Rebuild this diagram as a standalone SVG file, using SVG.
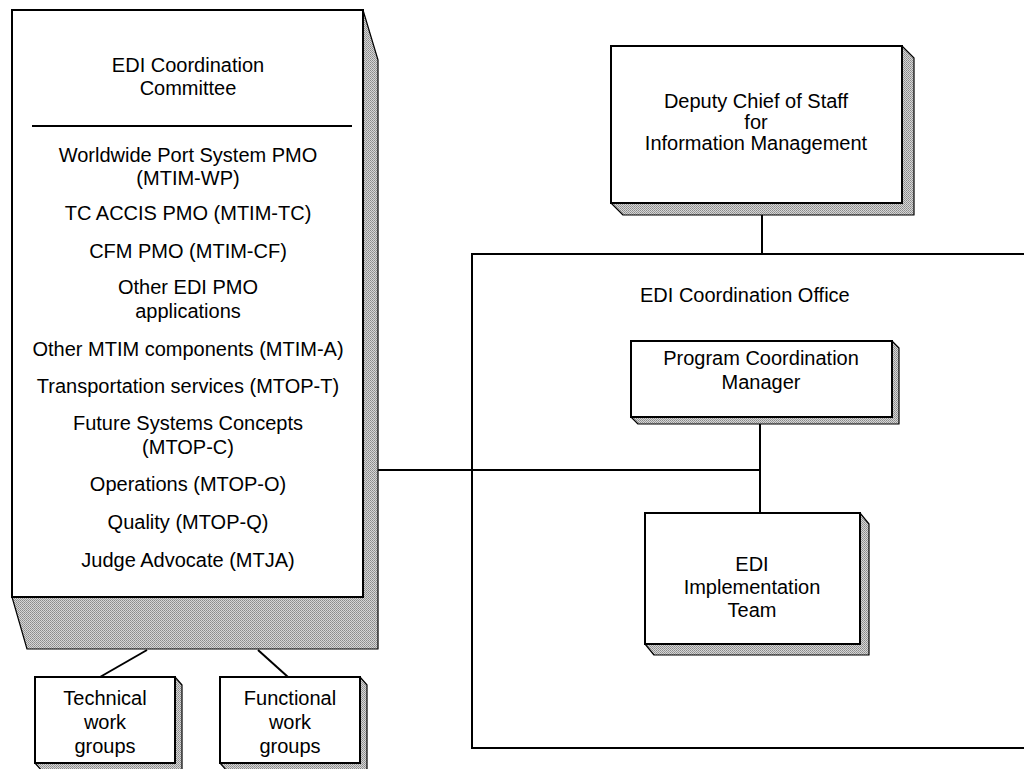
<svg xmlns="http://www.w3.org/2000/svg" width="1024" height="769" viewBox="0 0 1024 769">
<defs>
<pattern id="dots" width="2" height="2" patternUnits="userSpaceOnUse">
<rect width="2" height="2" fill="#d6d6d6"/>
<rect width="1" height="1" fill="#8a8a8a"/>
<rect x="1" y="1" width="1" height="1" fill="#9a9a9a"/>
</pattern>
</defs>
<style>
.face{fill:#fff;stroke:#000;stroke-width:2}
.shade{fill:url(#dots);stroke:#000;stroke-width:1.2;stroke-linejoin:round}
.t{font-family:"Liberation Sans",Arial,Helvetica,sans-serif;font-size:20px;fill:#000;text-anchor:middle}
.ts{font-family:"Liberation Sans",Arial,Helvetica,sans-serif;font-size:20px;fill:#000}
.c{stroke:#000;stroke-width:2;fill:none}
</style>
<rect width="1024" height="769" fill="#fff"/>

<g id="edi-coordination-office">
<path class="c" d="M1024,254 H472 V748 H1024"/>
<text class="ts" x="640" y="302">EDI Coordination Office</text>
</g>

<g id="connectors">
<line class="c" x1="762" y1="215" x2="762" y2="254"/>
<line class="c" x1="760" y1="423" x2="760" y2="513"/>
<line class="c" x1="371" y1="470" x2="760" y2="470"/>
<line class="c" x1="147" y1="650" x2="100" y2="677"/>
<line class="c" x1="258" y1="650" x2="288" y2="677"/>
</g>

<g id="edi-coordination-committee">
<polygon class="shade" points="363,10 378,60 378,649 27,649 12,597 363,597"/>
<rect class="face" x="12" y="10" width="351" height="587"/>
<line x1="32" y1="126" x2="352" y2="126" stroke="#000" stroke-width="2"/>
<text class="t" x="188" y="72">EDI Coordination</text>
<text class="t" x="188" y="95">Committee</text>
<text class="t" x="188" y="162">Worldwide Port System PMO</text>
<text class="t" x="188" y="185">(MTIM-WP)</text>
<text class="t" x="188" y="220">TC ACCIS PMO (MTIM-TC)</text>
<text class="t" x="188" y="258">CFM PMO (MTIM-CF)</text>
<text class="t" x="188" y="294">Other EDI PMO</text>
<text class="t" x="188" y="318">applications</text>
<text class="t" x="188" y="356">Other MTIM components (MTIM-A)</text>
<text class="t" x="188" y="393">Transportation services (MTOP-T)</text>
<text class="t" x="188" y="430">Future Systems Concepts</text>
<text class="t" x="188" y="454">(MTOP-C)</text>
<text class="t" x="188" y="491">Operations (MTOP-O)</text>
<text class="t" x="188" y="529">Quality (MTOP-Q)</text>
<text class="t" x="188" y="567">Judge Advocate (MTJA)</text>
</g>

<g id="technical-work-groups">
<polygon class="shade" points="175,677 182,685 182,771 42,771 35,763 175,763"/>
<rect class="face" x="35" y="677" width="140" height="86"/>
<text class="t" x="105" y="705">Technical</text>
<text class="t" x="105" y="729">work</text>
<text class="t" x="105" y="753">groups</text>
</g>

<g id="functional-work-groups">
<polygon class="shade" points="360,677 367,685 367,771 227,771 220,763 360,763"/>
<rect class="face" x="220" y="677" width="140" height="86"/>
<text class="t" x="290" y="705">Functional</text>
<text class="t" x="290" y="729">work</text>
<text class="t" x="290" y="753">groups</text>
</g>

<g id="deputy-chief">
<polygon class="shade" points="902,46 914,58 914,215 623,215 611,203 902,203"/>
<rect class="face" x="611" y="46" width="291" height="157"/>
<text class="t" x="756" y="108">Deputy Chief of Staff</text>
<text class="t" x="756" y="129">for</text>
<text class="t" x="756" y="150">Information Management</text>
</g>

<g id="program-coordination-manager">
<polygon class="shade" points="892,341 899,348 899,424 638,424 631,417 892,417"/>
<rect class="face" x="631" y="341" width="261" height="76"/>
<text class="t" x="761" y="365">Program Coordination</text>
<text class="t" x="761" y="389">Manager</text>
</g>

<g id="edi-implementation-team">
<polygon class="shade" points="860,513 869,524 869,655 654,655 645,644 860,644"/>
<rect class="face" x="645" y="513" width="215" height="131"/>
<text class="t" x="752" y="571">EDI</text>
<text class="t" x="752" y="594">Implementation</text>
<text class="t" x="752" y="617">Team</text>
</g>
</svg>
